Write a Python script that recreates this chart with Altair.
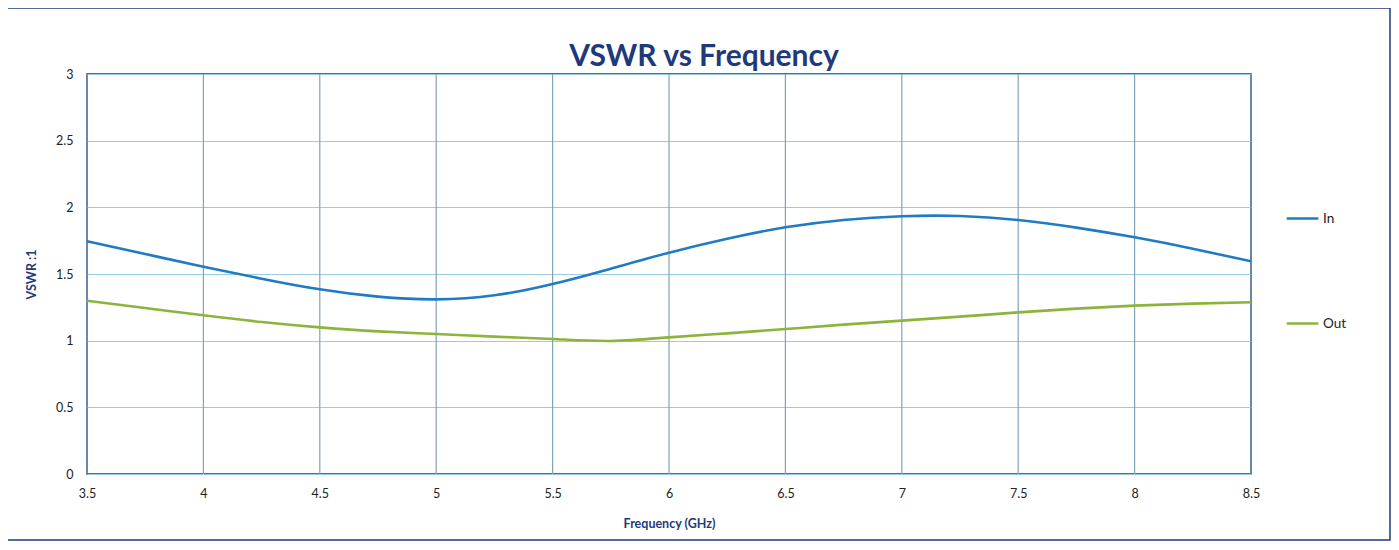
import altair as alt
import pandas as pd

freq = [3.5, 3.75, 4.0, 4.25, 4.5, 4.75, 5.0, 5.25, 5.5, 5.75, 6.0,
        6.25, 6.5, 6.75, 7.0, 7.25, 7.5, 7.75, 8.0, 8.25, 8.5]
vswr_in = [1.745, 1.65, 1.555, 1.465, 1.385, 1.33, 1.31, 1.34, 1.425, 1.54, 1.66,
           1.765, 1.85, 1.905, 1.933, 1.935, 1.905, 1.848, 1.775, 1.69, 1.595]
vswr_out = [1.30, 1.245, 1.19, 1.14, 1.10, 1.07, 1.05, 1.03, 1.013, 0.998, 1.025,
            1.055, 1.087, 1.12, 1.15, 1.18, 1.212, 1.24, 1.263, 1.278, 1.288]
series = ["In", "Out"]
colors = ["#1f7bc2", "#8cb43c"]
x_ticks = [3.5, 4, 4.5, 5, 5.5, 6, 6.5, 7, 7.5, 8, 8.5]
y_ticks = [0, 0.5, 1, 1.5, 2, 2.5, 3]
title_text = "VSWR vs Frequency"

rows = []
for f, a, b in zip(freq, vswr_in, vswr_out):
    rows.append({"f": f, "v": a, "s": "In"})
    rows.append({"f": f, "v": b, "s": "Out"})
df = pd.DataFrame(rows)

FONT = "Lato"
NAVY = "#1f3a7a"

xgrid = alt.Chart(pd.DataFrame({"t": x_ticks})).mark_rule(
    color="#7fa3b8", strokeWidth=1.2
).encode(x=alt.X("t:Q", scale=alt.Scale(domain=[3.5, 8.5])))

lines = alt.Chart(df).mark_line(strokeWidth=2.6, interpolate="natural").encode(
    x=alt.X("f:Q", scale=alt.Scale(domain=[3.5, 8.5], nice=False),
            axis=alt.Axis(values=x_ticks, title="Frequency (GHz)", grid=False,
                          domain=False, ticks=False, labelPadding=13,
                          titlePadding=18, format="~g", labelFlush=False)),
    y=alt.Y("v:Q", scale=alt.Scale(domain=[0, 3], nice=False),
            axis=alt.Axis(values=y_ticks, title="VSWR :1", grid=True,
                          gridColor="#9ccbe0", gridWidth=1.2,
                          domain=False, ticks=False, labelPadding=14,
                          titlePadding=17, format="~g", labelFlush=False)),
    color=alt.Color("s:N", scale=alt.Scale(domain=series, range=colors),
                    legend=alt.Legend(title=None, orient="none", legendX=1198,
                                      legendY=127, symbolType="stroke",
                                      symbolSize=1000, symbolStrokeWidth=2.6,
                                      labelFontSize=13.5, labelFont=FONT,
                                      labelColor="#222",
                                      rowPadding=81, labelOffset=3)),
)

frame = alt.Chart(pd.DataFrame({"a": [0]})).mark_rect(
    fill=None, stroke=NAVY, strokeWidth=1.5, clip=False
).encode(x=alt.value(-83), x2=alt.value(1303), y=alt.value(-66), y2=alt.value(466))

title = alt.Chart(pd.DataFrame({"t": [title_text]})).mark_text(
    font=FONT, fontSize=30, fontWeight="bold", color=NAVY, baseline="alphabetic"
).encode(text="t:N", x=alt.value(617), y=alt.value(-8))

chart = alt.layer(frame, xgrid, lines, title).properties(
    width=1164, height=400,
    autosize="none",
    padding={"left": 79, "top": 66, "right": 140, "bottom": 68},
).configure_view(stroke=NAVY, strokeWidth=1.6).configure_axis(
    labelFont=FONT, labelFontSize=12.5, labelColor="#222",
    titleFont=FONT, titleFontSize=12.5, titleColor=NAVY, titleFontWeight="bold"
)

chart.save("out.html", embed_options={"renderer": "svg", "actions": False})
